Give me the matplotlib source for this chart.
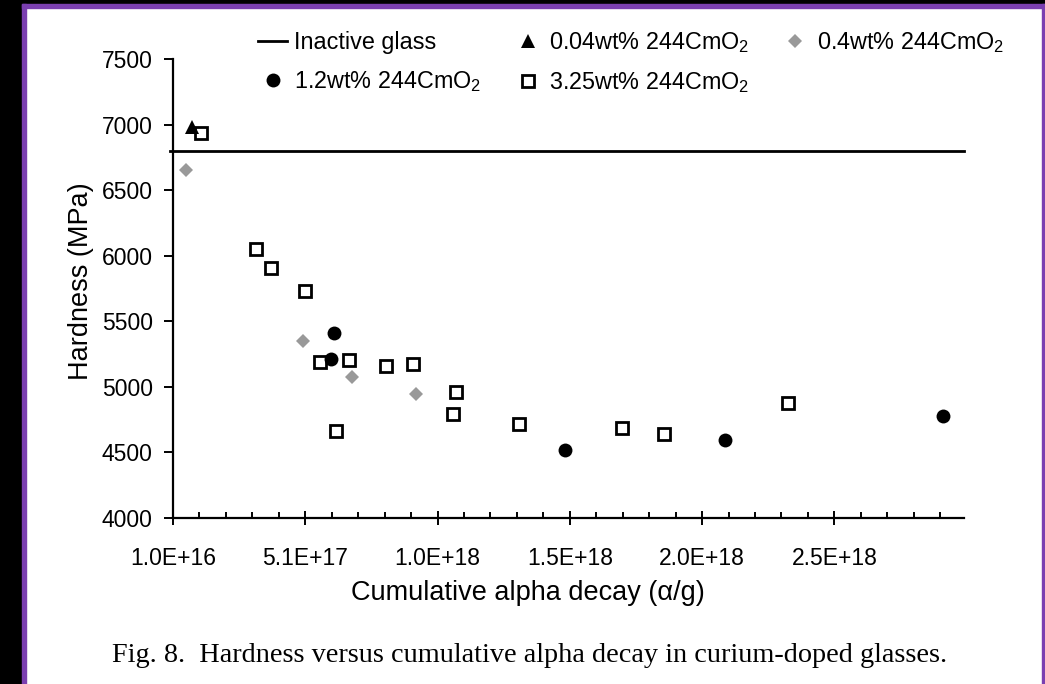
import numpy as np
import matplotlib
matplotlib.use("Agg")
import matplotlib.pyplot as plt
from matplotlib.patches import Rectangle
from matplotlib.ticker import FixedLocator, FuncFormatter

plt.rcParams['font.family'] = ['Liberation Sans', 'DejaVu Sans']
plt.rcParams['mathtext.fontset'] = 'custom'
plt.rcParams['mathtext.rm'] = 'Liberation Sans'
plt.rcParams['mathtext.it'] = 'Liberation Sans:italic'

# hardness of the inactive reference glass (MPa)
inactive_hardness = 6800

# 0.04 wt% 244CmO2
dose_004 = [8.0e16]
hard_004 = [6980]

# 0.4 wt% 244CmO2
dose_04 = [5.9e16, 5.02e17, 6.88e17, 9.30e17]
hard_04 = [6650, 5350, 5075, 4945]

# 1.2 wt% 244CmO2
dose_12 = [6.19e17, 6.09e17, 1.493e18, 2.097e18, 2.919e18]
hard_12 = [5410, 5210, 4520, 4595, 4780]

# 3.25 wt% 244CmO2
dose_325 = [1.145e17, 3.23e17, 3.82e17, 5.08e17, 5.67e17, 6.74e17, 6.25e17,
            8.14e17, 9.17e17, 1.080e18, 1.068e18, 1.316e18, 1.706e18,
            1.867e18, 2.335e18]
hard_325 = [6935, 6050, 5905, 5730, 5190, 5205, 4665,
            5160, 5175, 4960, 4790, 4715, 4685,
            4640, 4875]

x_major = np.arange(1e16, 3.0e18, 5e17)
x_minor = np.arange(1e16, 3.0e18, 1e17)

fig = plt.figure(figsize=(10.45, 6.84), dpi=100)
fig.patch.set_facecolor('white')
ax = fig.add_axes([173 / 1045, 1 - 518 / 684, (964 - 173) / 1045, (518 - 59) / 684])

line, = ax.plot([1e16 - 1.2e16, 3.0e18], [inactive_hardness] * 2, color='black',
                lw=2, clip_on=False, label='Inactive glass')
sq, = ax.plot(dose_325, hard_325, 's', ms=8.5, mfc='white', mec='black', mew=2,
              ls='none', label='3.25wt% 244CmO$_2$', clip_on=False)
ci, = ax.plot(dose_12, hard_12, 'o', ms=10, color='black', mew=0, ls='none',
              label='1.2wt% 244CmO$_2$', clip_on=False)
tr, = ax.plot(dose_004, hard_004, '^', ms=10, color='black', mew=0, ls='none',
              label='0.04wt% 244CmO$_2$', clip_on=False)
di, = ax.plot(dose_04, hard_04, 'D', ms=7.2, color='#999999', mew=0, ls='none',
              label='0.4wt% 244CmO$_2$', clip_on=False)

ax.set_xlim(1e16, 3.0e18)
ax.set_ylim(4000, 7500)
ax.set_yticks(np.arange(4000, 7501, 500))
ax.xaxis.set_major_locator(FixedLocator(x_major))
ax.xaxis.set_minor_locator(FixedLocator(x_minor))
ax.xaxis.set_major_formatter(FuncFormatter(lambda v, p: f"{v:.1E}"))

for s in ['top', 'right']:
    ax.spines[s].set_visible(False)
for s in ['left', 'bottom']:
    ax.spines[s].set_linewidth(1.6)

ax.tick_params(axis='x', which='major', direction='inout', length=10, width=1.4,
               labelsize=16.5, pad=16)
ax.tick_params(axis='x', which='minor', direction='in', length=4.5, width=1.4)
ax.tick_params(axis='y', which='major', direction='out', length=6.5, width=1.4,
               labelsize=16.5, pad=8)

ax.set_ylabel('Hardness (MPa)', fontsize=19.5)
ax.yaxis.set_label_coords(-0.10, 0.516)
ax.set_xlabel('Cumulative alpha decay (α/g)', fontsize=19.5)
ax.xaxis.set_label_coords(0.449, -0.136)

# legend: row 1 = Inactive, 0.04, 0.4 ; row 2 = 1.2, 3.25
fig.legend([line, ci, tr, sq, di],
           [h.get_label() for h in [line, ci, tr, sq, di]],
           ncol=3, loc='upper left', bbox_to_anchor=(258 / 1045, 1 - 30 / 684),
           frameon=False, fontsize=16.8, handlelength=1.25, handletextpad=0.3,
           columnspacing=1.35, labelspacing=0.65, borderaxespad=0, borderpad=0)

fig.text(530 / 1045, 1 - 655 / 684,
         'Fig. 8.  Hardness versus cumulative alpha decay in curium-doped glasses.',
         family='Liberation Serif', fontsize=20.3, ha='center', va='center')

# page frame
W, H = 1045, 684
def px_rect(x0, y0, w, h, color):
    fig.patches.append(Rectangle((x0 / W, 1 - (y0 + h) / H), w / W, h / H,
                                 transform=fig.transFigure, color=color, zorder=10))
px_rect(0, 0, 22, H, 'black')
px_rect(0, 0, W, 4, 'black')
px_rect(22, 4, 4, H - 4, '#7b3fb0')
px_rect(22, 4, W - 22, 4, '#7b3fb0')
px_rect(1042, 4, 3, H - 4, '#7b3fb0')

fig.savefig('out.png', dpi=100)
